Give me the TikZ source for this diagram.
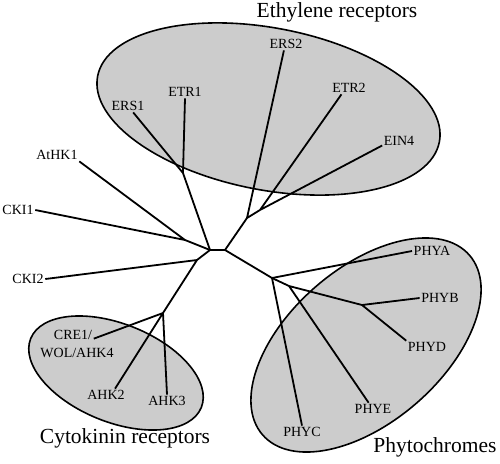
\documentclass[tikz,border=0pt]{standalone}
\usepackage{fontspec}
\setmainfont{Liberation Serif}
\usepackage{xcolor}
\usepackage{tikz}
\definecolor{cladegray}{gray}{0.8}

\begin{document}
\begin{tikzpicture}[x=1pt,y=-1pt,
    leaf/.style={inner sep=1.5pt,font=\fontsize{14}{16}\selectfont},
    cladename/.style={inner sep=0pt,font=\fontsize{21.5}{24}\selectfont},
    clade/.style={draw,line width=1.6pt,fill=cladegray},
    Br/.style={line width=1.8pt,line join=round},
                        ]
    \useasboundingbox (0,0) rectangle (500,463);
    % the three groups
    \draw[clade,shift={(268.5,109)},rotate=-10.9] (0,0) ellipse (174pt and 81pt);
    \draw[clade,shift={(116,373)},rotate=-22] (0,0) ellipse (92pt and 49pt);
    \draw[clade,shift={(366,345)},rotate=41] (0,0) ellipse (137pt and 77pt);
    \node[cladename] (eth_name)  at (337,12)  {Ethylene receptors};
    \node[cladename] (cyt_name)  at (125,438) {Cytokinin receptors};
    \node[cladename] (phy_name)  at (435,447) {Phytochromes};

    % inner branch points
    \coordinate (L)  at (210,250);
    \coordinate (R)  at (225,250);
    \coordinate (j1) at (183,173);
    \coordinate (j2) at (185,240);
    \coordinate (j3) at (260,210);
    \coordinate (j4) at (247,218);
    \coordinate (j5) at (197,260);
    \coordinate (j6) at (163,313);
    \coordinate (j7) at (272,278);
    \coordinate (j8) at (289,286);
    \coordinate (j9) at (362,305);

    % leaves
    \node[leaf] (ers2)  at (286,44)  {ERS2};
    \node[leaf] (etr2)  at (349,88)  {ETR2};
    \node[leaf] (ein4)  at (399,141) {EIN4};
    \node[leaf] (etr1)  at (185,92)  {ETR1};
    \node[leaf] (ers1)  at (128,106) {ERS1};
    \node[leaf] (athk1) at (57,155)  {AtHK1};
    \node[leaf] (cki1)  at (18,210)  {CKI1};
    \node[leaf] (cki2)  at (28,279)  {CKI2};
    \node[leaf] (cre1)  at (73,335)  {CRE1/};
    \node[leaf] (wol)   at (77,353)  {WOL/AHK4};
    \node[leaf] (ahk2)  at (106,395) {AHK2};
    \node[leaf] (ahk3)  at (167,401) {AHK3};
    \node[leaf] (phya)  at (432,251) {PHYA};
    \node[leaf] (phyb)  at (440,298) {PHYB};
    \node[leaf] (phyd)  at (427,347) {PHYD};
    \node[leaf] (phye)  at (373,409) {PHYE};
    \node[leaf] (phyc)  at (302,432) {PHYC};

    % tree
    \draw[Br] (L) -- (R);
    \draw[Br] (L) -- (j1) (j1) -- (ers1.-51) (j1) -- (etr1.south);
    \draw[Br] (L) -- (j2) (j2) -- (athk1.south east) (j2) -- (cki1.east);
    \draw[Br] (L) -- (j5) -- (j6) (j5) -- (cki2.east);
    \draw[Br] (j6) -- (cre1.-10) (j6) -- (ahk2.35) (j6) -- (ahk3.north);
    \draw[Br] (R) -- (j4) -- (j3) (j4) -- (ers2.-108);
    \draw[Br] (j3) -- (etr2.-140) (j3) -- (ein4.-165);
    \draw[Br] (R) -- (j7) (j7) -- (phya.west) (j7) -- (phyc.north);
    \draw[Br] (j7) -- (j8) -- (j9) (j8) -- (phye.125);
    \draw[Br] (j9) -- (phyb.west) (j9) -- (phyd.north west);
\end{tikzpicture}
\end{document}
